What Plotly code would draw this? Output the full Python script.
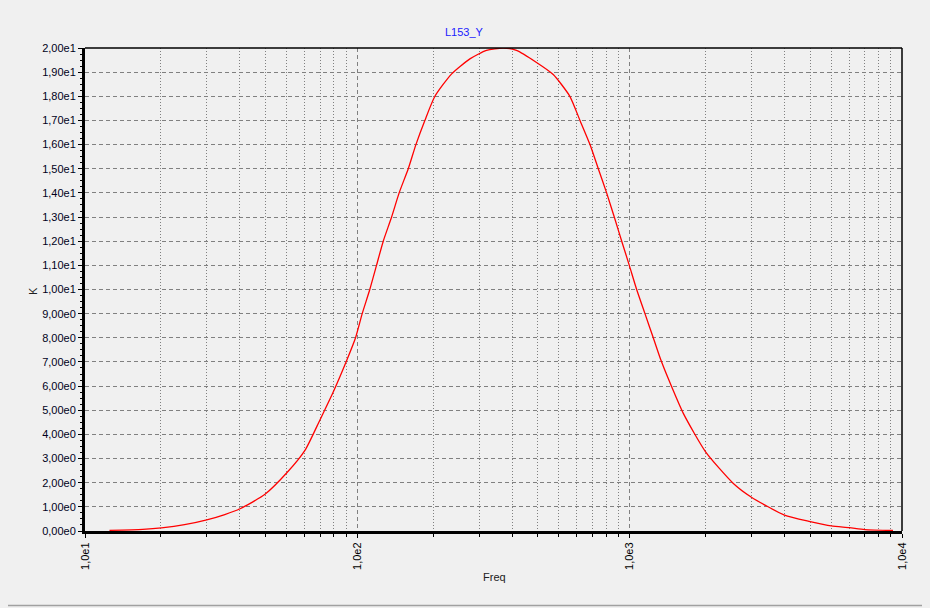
import plotly.graph_objects as go

# ---- data ----
freq = [12.3, 16.3, 19.1, 23.2, 28.0, 32.6, 37.1, 45.8, 55.2, 64.3, 72.9, 82.2, 91.7,
        98.5, 104.2, 111.1, 117.6, 124.5, 133.6, 142.4, 153.8, 164.1, 177.0, 192.7,
        222.0, 259.0, 298.0, 343.0, 384.0, 455.0, 524.0, 603.0, 657.0, 715.0, 767.0,
        823.0, 878.0, 935.0, 997.0, 1061.0, 1138.0, 1221.0, 1300.0, 1393.0, 1574.0,
        1900.0, 2403.0, 2800.0, 3700.0, 4600.0, 5500.0, 6400.0, 7300.0, 9270.0]
k_val = [0.03, 0.07, 0.13, 0.26, 0.46, 0.68, 0.92, 1.52, 2.42, 3.35, 4.6, 5.84, 7.1,
         8.0, 9.0, 10.0, 11.0, 12.0, 13.0, 14.0, 15.0, 16.0, 17.0, 18.0,
         18.93, 19.55, 19.9, 20.0, 19.9, 19.4, 18.9, 18.0, 17.0, 16.0, 15.0,
         14.0, 13.0, 12.0, 11.0, 10.0, 9.0, 8.0, 7.1, 6.25, 4.87,
         3.28, 1.97, 1.40, 0.66, 0.39, 0.21, 0.14, 0.06, 0.02]

x_major = [10, 100, 1000, 10000]
x_major_text = ["1,0e1", "1,0e2", "1,0e3", "1,0e4"]
x_minor = [d * (1 + 0.9 * k) for d in (10, 100, 1000) for k in range(1, 10)]

y_ticks = list(range(0, 21))
y_text = [("%.2fe0" % v).replace(".", ",") if v < 10 else ("%.2fe1" % (v / 10)).replace(".", ",")
          for v in y_ticks]

title_text = "L153_Y"
x_title = "Freq"
y_title = "K"

# ---- figure ----
BG = "#F0F0F0"
GRID = "#808080"
FONT = "Liberation Sans, Arial, sans-serif"

# page body has an 8px margin, so the figure is offset by (8, 8)
OFF = 8
W, H = 930 - OFF, 608 - OFF
PX0, PX1, PY0, PY1 = 85, 902, 48, 531          # plot area in page pixels
L, T = PX0 - OFF, PY0 - OFF
R, B = W - (PX1 - OFF), H - (PY1 - OFF)
pw, ph = PX1 - PX0, PY1 - PY0


def px(x):
    return (x - PX0) / pw


def py(y):
    return (PY1 - y) / ph


fig = go.Figure()
fig.add_trace(go.Scatter(x=freq, y=k_val, mode="lines",
                         line=dict(color="#FF0000", width=1.3, shape="spline", smoothing=0.6),
                         showlegend=False, hoverinfo="x+y"))

fig.update_layout(
    width=W, height=H,
    margin=dict(l=L, r=R, t=T, b=B, autoexpand=False),
    paper_bgcolor=BG, plot_bgcolor=BG,
    font=dict(family=FONT, size=11, color="#000000"),
    showlegend=False,
    xaxis=dict(
        type="log", range=[1, 4],
        tickmode="array", tickvals=x_major, ticktext=x_major_text,
        tickangle=-90, ticks="outside", ticklen=4, tickcolor="#000000",
        showgrid=True, gridcolor=GRID, griddash="4px,3px", gridwidth=1,
        showline=True, linecolor="#000000", linewidth=3,
        zeroline=False, automargin=False,
        minor=dict(tickmode="array", tickvals=x_minor, showgrid=True,
                   gridcolor=GRID, griddash="1px,2px", gridwidth=1,
                   ticks="outside", ticklen=3, tickcolor="#000000"),
        tickfont=dict(family=FONT, size=11, color="#000000"),
    ),
    yaxis=dict(
        range=[0, 20],
        tickmode="array", tickvals=y_ticks, ticktext=y_text,
        ticks="outside", ticklen=4, tickcolor="#000000",
        showgrid=True, gridcolor=GRID, griddash="4px,3px", gridwidth=1,
        showline=True, linecolor="#000000", linewidth=3,
        zeroline=False, automargin=False,
        minor=dict(dtick=0.25, ticks="outside", ticklen=2, tickcolor="#000000",
                   showgrid=False),
        tickfont=dict(family=FONT, size=11, color="#000020"),
    ),
)

# top and right thin frame lines
fig.add_shape(type="line", xref="paper", yref="paper", x0=0, x1=1, y0=1, y1=1,
              line=dict(color="#000000", width=1.5))
fig.add_shape(type="line", xref="paper", yref="paper", x0=1, x1=1, y0=0, y1=1,
              line=dict(color="#000000", width=1.5))
# window border (right & bottom)
fig.add_shape(type="line", xref="paper", yref="paper", x0=px(927.5), x1=px(927.5),
              y0=py(605.5), y1=py(OFF), line=dict(color="#A0A0A0", width=1.5))
fig.add_shape(type="line", xref="paper", yref="paper", x0=px(OFF), x1=px(927.5),
              y0=py(605.5), y1=py(605.5), line=dict(color="#A0A0A0", width=1.5))

fig.add_annotation(text=title_text, xref="paper", yref="paper", x=px(464), y=py(32),
                   xanchor="center", yanchor="middle", showarrow=False,
                   font=dict(family=FONT, size=11, color="#2020FF"))
fig.add_annotation(text=x_title, xref="paper", yref="paper", x=px(494), y=py(577),
                   xanchor="center", yanchor="middle", showarrow=False,
                   font=dict(family=FONT, size=11, color="#202020"))
fig.add_annotation(text=y_title, xref="paper", yref="paper", x=px(33), y=py(291),
                   xanchor="center", yanchor="middle", showarrow=False, textangle=-90,
                   font=dict(family=FONT, size=11, color="#202020"))

fig.write_html("out.html",
               post_script="document.body.style.backgroundColor='%s';" % BG)
